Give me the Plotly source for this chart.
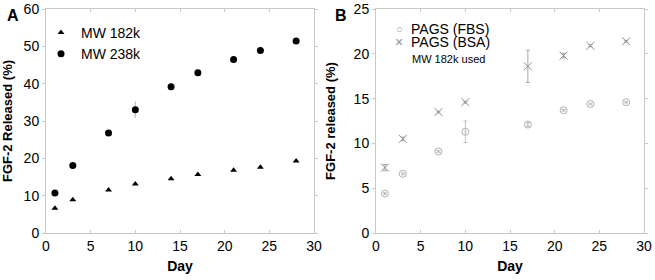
import plotly.graph_objects as go
from plotly.subplots import make_subplots

days_a = [1, 3, 7, 10, 14, 17, 21, 24, 28]
mw182 = [6.6, 8.9, 11.5, 13.1, 14.5, 15.7, 16.8, 17.6, 19.3]
mw182_err = [0.2, 0.2, 0.2, 0.2, 0.2, 0.2, 0.2, 0.2, 0.2]
mw238 = [10.7, 18.1, 26.8, 33.0, 39.2, 42.9, 46.5, 48.9, 51.4]
mw238_err = [0.3, 0.3, 0.4, 2.2, 1.0, 0.3, 0.3, 0.3, 0.3]

days_b = [1, 3, 7, 10, 17, 21, 24, 28]
fbs = [4.4, 6.6, 9.1, 11.3, 12.1, 13.7, 14.4, 14.6]
fbs_err = [0.1, 0.1, 0.1, 1.2, 0.2, 0.1, 0.1, 0.1]
bsa = [7.3, 10.5, 13.5, 14.6, 18.6, 19.8, 20.9, 21.4]
bsa_err = [0.35, 0.2, 0.1, 0.1, 1.8, 0.25, 0.1, 0.1]

legend_b = ["PAGS (FBS)", "PAGS (BSA)"]
note_b = "MW 182k used"

FONT = "Liberation Sans, Arial, sans-serif"
AX = "#c8c8c8"
ERR = "#c0c0c0"

L, R, T, B = 46, 11, 9, 47
W, H = 655, 280
PW, PH = W - L - R, H - T - B


def px(x):
    return (x - L) / PW


def py(y):
    return 1 - (y - T) / PH


fig = make_subplots(rows=1, cols=2, horizontal_spacing=0.1)

fig.add_trace(go.Scatter(x=days_a, y=mw182, mode="markers", name="MW 182k",
                         marker=dict(symbol="triangle-up", size=6, color="black"),
                         error_y=dict(type="data", array=mw182_err, color=ERR, thickness=1, width=0)), 1, 1)
fig.add_trace(go.Scatter(x=days_a, y=mw238, mode="markers", name="MW 238k",
                         marker=dict(symbol="circle", size=7, color="black"),
                         error_y=dict(type="data", array=mw238_err, color=ERR, thickness=1.2, width=0)), 1, 1)
fig.add_trace(go.Scatter(x=days_b, y=fbs, mode="markers", name=legend_b[0], showlegend=False,
                         marker=dict(symbol="circle-open-dot", size=7, color="#b0b0b0", line=dict(width=1)),
                         error_y=dict(type="data", array=fbs_err, color=ERR, thickness=1, width=2)), 1, 2)
fig.add_trace(go.Scatter(x=days_b, y=bsa, mode="markers", name=legend_b[1], showlegend=False,
                         marker=dict(symbol="x-thin-open", size=8, color="#909090",
                                     line=dict(width=1, color="#909090")),
                         error_y=dict(type="data", array=bsa_err, color="#a8a8a8", thickness=1, width=2)), 1, 2)

axis_common = dict(showline=True, linecolor=AX, linewidth=1, mirror="ticks",
                   tickcolor=AX, ticklen=3, showgrid=False, zeroline=False, automargin=False,
                   tickfont=dict(family=FONT, size=14, color="black"))

fig.update_xaxes(range=[0, 30], dtick=5, ticks="inside",
                 title=dict(text="<b>Day</b>", font=dict(family=FONT, size=14, color="black"), standoff=8),
                 **axis_common)
fig.update_yaxes(ticks="outside", **axis_common)
fig.update_xaxes(domain=[0, 268 / PW], row=1, col=1)
fig.update_xaxes(domain=[330 / PW, 1], row=1, col=2)
fig.update_yaxes(range=[0, 60], dtick=10, row=1, col=1,
                 title=dict(text="<b>FGF-2 Released (%)</b>", font=dict(family=FONT, size=13, color="black")))
fig.update_yaxes(range=[0, 25], dtick=5, row=1, col=2,
                 title=dict(text="<b>FGF-2 released (%)</b>", font=dict(family=FONT, size=13, color="black")))

annotations = [
    dict(text="<b>A</b>", x=px(13), y=py(15)),
    dict(text="<b>B</b>", x=px(341), y=py(15)),
]
annotations = [dict(a, xref="paper", yref="paper", xanchor="center", yanchor="middle", showarrow=False,
                    font=dict(family=FONT, size=16, color="black")) for a in annotations]
# legend of panel B drawn as text
annotations += [
    dict(text="○", x=px(399), y=py(29), xanchor="center", font=dict(family=FONT, size=11, color="#a0a0a0")),
    dict(text="×", x=px(399), y=py(42), xanchor="center", font=dict(family=FONT, size=14, color="#909090")),
    dict(text=legend_b[0], x=px(410), y=py(29), xanchor="left", font=dict(family=FONT, size=14, color="black")),
    dict(text=legend_b[1], x=px(410), y=py(42), xanchor="left", font=dict(family=FONT, size=14, color="black")),
    dict(text=note_b, x=px(411), y=py(59), xanchor="left", font=dict(family=FONT, size=11, color="black")),
]
for a in annotations[2:]:
    a.update(xref="paper", yref="paper", yanchor="middle", showarrow=False, borderpad=0)

fig.update_layout(
    width=W, height=H,
    margin=dict(l=L, r=R, t=T, b=B),
    plot_bgcolor="white", paper_bgcolor="white",
    font=dict(family=FONT, color="black"),
    legend=dict(x=px(41), y=py(17), xanchor="left", yanchor="top", bgcolor="rgba(0,0,0,0)",
                font=dict(family=FONT, size=14), itemwidth=30, tracegroupgap=0),
    annotations=annotations,
)

fig.write_html("out.html", config={"displayModeBar": False},
               post_script="document.body.style.margin='0';document.body.style.padding='0';"
                           "document.body.style.overflow='hidden';")
